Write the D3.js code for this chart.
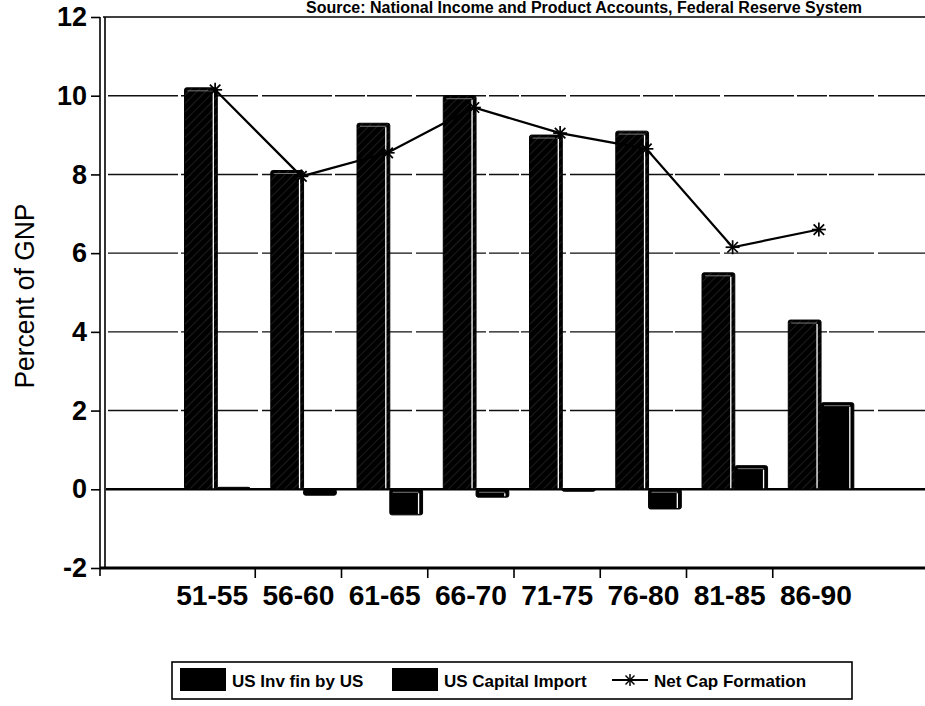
<!DOCTYPE html>
<html>
<head>
<meta charset="utf-8">
<script src="https://cdn.jsdelivr.net/npm/d3@7"></script>
<style>
  body { margin: 0; background: #fff; }
  svg { display: block; font-family: "Liberation Sans", Arial, sans-serif; }
</style>
</head>
<body>
<div id="chart"></div>
<script>
// values
const periods = ["51-55", "56-60", "61-65", "66-70", "71-75", "76-80", "81-85", "86-90"];
const usInvFinByUS = [10.2, 8.1, 9.3, 10.0, 9.0, 9.1, 5.5, 4.3];
const usCapitalImport = [0.05, -0.15, -0.65, -0.2, -0.05, -0.5, 0.6, 2.2];
const netCapFormation = [10.15, 7.95, 8.55, 9.7, 9.05, 8.65, 6.15, 6.6];
const yTicks = [-2, 0, 2, 4, 6, 8, 10, 12];
const gridTicks = [2, 4, 6, 8, 10];
const seriesNames = ["US Inv fin by US", "US Capital Import", "Net Cap Formation"];

const width = 925, height = 706;
const svg = d3.select("#chart").append("svg")
    .attr("width", width)
    .attr("height", height);

// hatch used on the first series
const defs = svg.append("defs");
const pat = defs.append("pattern")
    .attr("id", "hatch")
    .attr("patternUnits", "userSpaceOnUse")
    .attr("width", 6).attr("height", 6)
    .attr("patternTransform", "rotate(45)");
pat.append("rect").attr("width", 6).attr("height", 6).attr("fill", "#000");
pat.append("line").attr("x1", 0).attr("y1", 0).attr("x2", 0).attr("y2", 6)
    .attr("stroke", "#3a3a3a").attr("stroke-width", 1);

// scales
let y = d3.scaleLinear().domain([-2, 12]).range([568, 17]);
let x = d3.scaleBand().domain(periods).range([169, 859]).padding(0);
let sub = d3.scaleBand().domain(["inv", "imp"])
    .range([x.bandwidth() * 0.18, x.bandwidth() * 0.94]);

const left = 103, right = 925;

// header text (cut off at the top of the scan)
svg.append("text")
    .attr("x", 862).attr("y", 13)
    .attr("text-anchor", "end")
    .style("font-size", "16px").style("font-weight", "bold")
    .text("Source: National Income and Product Accounts, Federal Reserve System");

// gridlines
svg.append("g").selectAll("line")
    .data(gridTicks)
    .enter().append("line")
      .attr("x1", left + 5).attr("x2", right)
      .attr("y1", d => y(d)).attr("y2", d => y(d))
      .attr("stroke", "#111").attr("stroke-width", 1.4)
      .attr("stroke-dasharray", "70,3,30,2,45,4");

// frame top
svg.append("line")
    .attr("x1", left).attr("x2", right)
    .attr("y1", y(12)).attr("y2", y(12))
    .attr("stroke", "#000").attr("stroke-width", 1.5);

// floor at zero
svg.append("line")
    .attr("x1", left + 3).attr("x2", right)
    .attr("y1", y(0)).attr("y2", y(0))
    .attr("stroke", "#000").attr("stroke-width", 2.5);

// bars
let groups = svg.append("g").selectAll("g")
    .data(periods)
    .enter().append("g")
      .attr("transform", d => "translate(" + x(d) + ",0)");

function drawBar(sel, key, values, fill) {
    let b = sel.append("g");
    let top = (d, i) => y(Math.max(0, values[i]));
    let h = (d, i) => Math.abs(y(values[i]) - y(0));
    b.append("rect")
        .attr("x", sub(key))
        .attr("y", top)
        .attr("width", sub.bandwidth())
        .attr("height", h)
        .attr("rx", 2)
        .attr("fill", fill)
        .attr("stroke", "#000").attr("stroke-width", 1);
    // 3d side edge
    b.append("line")
        .attr("x1", sub(key) + sub.bandwidth() - 4)
        .attr("x2", sub(key) + sub.bandwidth() - 4)
        .attr("y1", (d, i) => top(d, i) + 4)
        .attr("y2", (d, i) => top(d, i) + Math.max(0, h(d, i) - 1))
        .attr("stroke", "#fff").attr("stroke-width", (d, i) => h(d, i) > 6 ? 1.3 : 0);
    b.append("line")
        .attr("x1", sub(key) + 3)
        .attr("x2", sub(key) + sub.bandwidth() - 4)
        .attr("y1", (d, i) => top(d, i) + 3)
        .attr("y2", (d, i) => top(d, i) + 3)
        .attr("stroke", "#777").attr("stroke-width", (d, i) => h(d, i) > 6 ? 1 : 0);
}
drawBar(groups, "inv", usInvFinByUS, "url(#hatch)");
drawBar(groups, "imp", usCapitalImport, "#000");

// asterisk marker
function star(sel, r) {
    sel.append("line").attr("x1", -r).attr("x2", r).attr("y1", 0).attr("y2", 0);
    sel.append("line").attr("x1", 0).attr("x2", 0).attr("y1", -r).attr("y2", r);
    sel.append("line").attr("x1", -r * 0.75).attr("x2", r * 0.75).attr("y1", -r * 0.75).attr("y2", r * 0.75);
    sel.append("line").attr("x1", -r * 0.75).attr("x2", r * 0.75).attr("y1", r * 0.75).attr("y2", -r * 0.75);
}

// net cap formation line
let lineX = (d, i) => x(periods[i]) + x.bandwidth() / 2 + 3;
let line = d3.line()
    .x((d, i) => lineX(d, i))
    .y(d => y(d));
svg.append("path")
    .datum(netCapFormation)
    .attr("d", line)
    .attr("fill", "none")
    .attr("stroke", "#000").attr("stroke-width", 2.2);
svg.append("g").selectAll("g")
    .data(netCapFormation)
    .enter().append("g")
      .attr("transform", (d, i) => "translate(" + lineX(d, i) + "," + y(d) + ")")
      .attr("stroke", "#000").attr("stroke-width", 1.7)
      .call(star, 7);

// y axis: double line
svg.append("line").attr("x1", left - 3).attr("x2", left - 3)
    .attr("y1", y(12)).attr("y2", y(-2) + 8)
    .attr("stroke", "#000").attr("stroke-width", 1.6);
svg.append("line").attr("x1", left + 2).attr("x2", left + 2)
    .attr("y1", y(12)).attr("y2", y(-2))
    .attr("stroke", "#000").attr("stroke-width", 1.6);

let yAxis = svg.append("g")
    .attr("transform", "translate(" + (left - 3) + ",0)")
    .call(d3.axisLeft(y).tickValues(yTicks).tickSize(9).tickPadding(4).tickFormat(d => String(d)));
yAxis.select(".domain").remove();
yAxis.selectAll(".tick line").attr("stroke", "#000").attr("stroke-width", 1.6);
yAxis.selectAll(".tick text")
    .attr("fill", "#000")
    .style("font-size", "27px").style("font-weight", "bold")
    .style("font-family", "'Liberation Sans', Arial, sans-serif");

// bottom line
svg.append("line")
    .attr("x1", left - 3).attr("x2", right)
    .attr("y1", y(-2)).attr("y2", y(-2))
    .attr("stroke", "#000").attr("stroke-width", 3);

// x axis ticks between categories, labels centered
let xAxis = svg.append("g")
    .attr("transform", "translate(0," + y(-2) + ")");
xAxis.selectAll("line")
    .data(periods.slice(1))
    .enter().append("line")
      .attr("x1", d => x(d)).attr("x2", d => x(d))
      .attr("y1", 0).attr("y2", 10)
      .attr("stroke", "#000").attr("stroke-width", 1.6);
xAxis.selectAll("text")
    .data(periods)
    .enter().append("text")
      .attr("x", d => x(d) + x.bandwidth() / 2)
      .attr("y", 37)
      .attr("text-anchor", "middle")
      .style("font-size", "27px").style("font-weight", "bold")
      .attr("textLength", 72).attr("lengthAdjust", "spacingAndGlyphs")
      .text(d => d);

// y title
svg.append("text")
    .attr("transform", "translate(34,296) rotate(-90)")
    .attr("text-anchor", "middle")
    .attr("textLength", 185).attr("lengthAdjust", "spacingAndGlyphs")
    .style("font-size", "27px")
    .text("Percent of GNP");

// legend
let legend = svg.append("g");
legend.append("rect")
    .attr("x", 172).attr("y", 662)
    .attr("width", 680).attr("height", 37)
    .attr("fill", "none").attr("stroke", "#000").attr("stroke-width", 1.6);

legend.append("rect").attr("x", 180).attr("y", 668).attr("width", 46).attr("height", 23).attr("fill", "#000");
legend.append("rect").attr("x", 392).attr("y", 668).attr("width", 46).attr("height", 23).attr("fill", "#000");
legend.append("line").attr("x1", 612).attr("x2", 648).attr("y1", 680).attr("y2", 680)
    .attr("stroke", "#000").attr("stroke-width", 1.8);
legend.append("g").attr("transform", "translate(630,680)")
    .attr("stroke", "#000").attr("stroke-width", 1.5)
    .call(star, 6);

let legendX = [232, 444, 654];
legend.selectAll("text.lbl")
    .data(seriesNames)
    .enter().append("text")
      .attr("class", "lbl")
      .attr("x", (d, i) => legendX[i])
      .attr("y", 687)
      .style("font-size", "17px").style("font-weight", "bold")
      .text(d => d);
</script>
</body>
</html>
